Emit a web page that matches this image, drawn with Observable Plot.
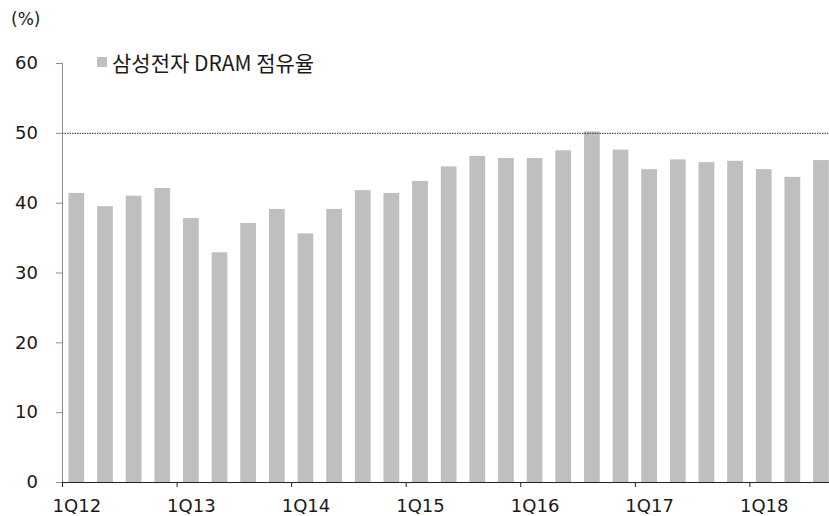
<!DOCTYPE html>
<html><head><meta charset="utf-8">
<script src="https://cdn.jsdelivr.net/npm/d3@7"></script>
<script src="https://cdn.jsdelivr.net/npm/@observablehq/plot@0.6"></script>
<style>
body{margin:0;background:#fff;font-family:"Noto Sans CJK KR","Noto Sans",sans-serif;}
#wrap{position:relative;width:829px;height:516px;overflow:hidden;}
#chart{position:absolute;left:0;top:0;}
#unit{position:absolute;left:11px;top:7px;font-family:"DejaVu Sans",sans-serif;font-size:17px;color:#1a1a1a;line-height:24px;}
#legend{position:absolute;left:97px;top:50px;font-size:21px;line-height:24px;display:flex;align-items:center;color:#1a1a1a;}
#legend .sw{display:inline-block;width:10px;height:10px;background:#bfbfbf;margin-right:5px;}
</style></head><body>
<div id="wrap"><div id="chart"></div><div id="unit">(%)</div><div id="legend"><span class="sw"></span><span>삼성전자 DRAM 점유율</span></div></div>
<script>
const quarters = ["1Q12","2Q12","3Q12","4Q12","1Q13","2Q13","3Q13","4Q13","1Q14","2Q14","3Q14","4Q14","1Q15","2Q15","3Q15","4Q15","1Q16","2Q16","3Q16","4Q16","1Q17","2Q17","3Q17","4Q17","1Q18","2Q18","3Q18"];
const share = [41.4,39.5,41.0,42.1,37.8,32.9,37.1,39.1,35.6,39.1,41.8,41.4,43.1,45.2,46.7,46.4,46.4,47.5,50.2,47.6,44.8,46.2,45.8,46.0,44.8,43.7,46.1];
const yTicks = [0,10,20,30,40,50,60];
const xTickLabels = ["1Q12","1Q13","1Q14","1Q15","1Q16","1Q17","1Q18"];
const refLine = [50];

const data = quarters.map((q, i) => ({q, v: share[i]}));
const x0 = 62, x1 = 835.3;
const step = (x1 - x0) / quarters.length;
const font = '"DejaVu Sans","Noto Sans",sans-serif';

const chart = Plot.plot({
  width: 829, height: 516,
  marginLeft: 62, marginRight: 0, marginTop: 63, marginBottom: 34,
  style: {fontFamily: font, fontSize: "18px", color: "#1a1a1a", background: "transparent"},
  x: {domain: quarters, range: [x0, x1], paddingInner: 0.45, paddingOuter: 0.225, round: false, axis: null},
  y: {domain: [0, 60], range: [482, 63], axis: null},
  marks: [
    Plot.barY(data, {x: "q", y: "v", fill: "#bfbfbf"}),
    Plot.ruleY(refLine, {stroke: "#333", strokeDasharray: "1.5,1", strokeWidth: 1}),
    Plot.frame({anchor: "left", stroke: "#8c8c8c"}),
    Plot.axisY(yTicks, {tickSize: 6, tickPadding: 18.5, stroke: "#8c8c8c", fill: "#1a1a1a", fontSize: 18, label: null, tickFormat: d => d}),
    Plot.ruleY([0], {stroke: "#222"}),
    Plot.axisX(xTickLabels, {tickSize: 5, dx: -step / 2, stroke: "#222", tickFormat: () => "", label: null}),
    Plot.axisX(xTickLabels, {tickSize: 0, tickPadding: 16.5, fill: "#1a1a1a", fontSize: 18, label: null})
  ]
});
document.getElementById("chart").appendChild(chart);
</script>
</body></html>
